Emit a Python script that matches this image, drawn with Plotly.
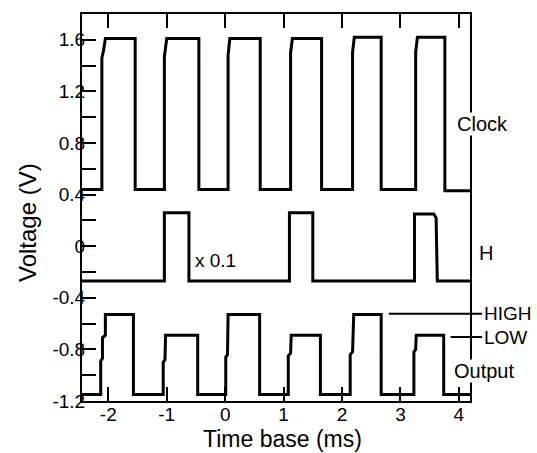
import plotly.graph_objects as go

# ---- data ----
clock_t = [-2.45, -2.11, -2.11, -2.08, -2.05, -1.54, -1.54,
           -1.04, -1.04, -1.00, -0.45, -0.45,
           0.05, 0.05, 0.08, 0.60, 0.60,
           1.12, 1.12, 1.15, 1.65, 1.65,
           2.18, 2.18, 2.21, 2.67, 2.67,
           3.26, 3.26, 3.29, 3.76, 3.76, 4.19]
clock_v = [0.44, 0.44, 1.46, 1.52, 1.61, 1.61, 0.44,
           0.44, 1.47, 1.61, 1.61, 0.44,
           0.44, 1.48, 1.61, 1.61, 0.44,
           0.44, 1.50, 1.61, 1.61, 0.44,
           0.44, 1.50, 1.62, 1.62, 0.44,
           0.44, 1.50, 1.62, 1.62, 0.43, 0.43]

h_t = [-2.45, -1.04, -1.04, -0.62, -0.62, 1.10, 1.10, 1.50, 1.50,
       3.24, 3.24, 3.57, 3.61, 3.63, 4.19]
h_v = [-0.27, -0.27, 0.26, 0.26, -0.27, -0.27, 0.26, 0.26, -0.27,
       -0.27, 0.25, 0.25, 0.22, -0.27, -0.27]

out_t = [-2.45, -2.13, -2.13, -2.10, -2.10, -2.05, -2.05, -1.57, -1.57,
         -1.06, -1.06, -1.03, -1.02, -0.47, -0.47,
         0.01, 0.01, 0.04, 0.05, 0.59, 0.59,
         1.08, 1.08, 1.12, 1.13, 1.63, 1.63,
         2.14, 2.14, 2.18, 2.20, 2.67, 2.67,
         3.23, 3.23, 3.26, 3.27, 3.74, 3.74, 4.19]
out_v = [-1.15, -1.15, -0.89, -0.87, -0.71, -0.69, -0.53, -0.53, -1.15,
         -1.15, -0.90, -0.88, -0.69, -0.69, -1.15,
         -1.15, -0.86, -0.84, -0.53, -0.53, -1.15,
         -1.15, -0.85, -0.83, -0.69, -0.69, -1.15,
         -1.15, -0.84, -0.82, -0.53, -0.53, -1.15,
         -1.15, -0.82, -0.80, -0.69, -0.69, -1.15, -1.15]

x_tickvals = [-2, -1, 0, 1, 2, 3, 4]
x_ticktext = ["-2", "-1", "0", "1", "2", "3", "4"]
y_tickvals = [-1.2, -1.0, -0.8, -0.6, -0.4, -0.2, 0, 0.2, 0.4, 0.6, 0.8,
              1.0, 1.2, 1.4, 1.6]
y_ticktext = ["-1.2", "", "-0.8", "", "-0.4", "", "0", "", "0.4", "",
              "0.8", "", "1.2", "", "1.6"]

FONT = "Liberation Sans, Arial, Helvetica, sans-serif"
line_style = dict(color="black", width=3)

fig = go.Figure()
for t, v in [(clock_t, clock_v), (h_t, h_v), (out_t, out_v)]:
    fig.add_trace(go.Scatter(x=t, y=v, mode="lines", line=line_style,
                             showlegend=False, hoverinfo="skip"))

fig.update_layout(
    width=537, height=453,
    margin=dict(l=82, r=67, t=12, b=52),
    plot_bgcolor="white", paper_bgcolor="white",
    font=dict(family=FONT, size=19, color="black"),
    showlegend=False,
)
fig.update_xaxes(range=[-2.45, 4.19], tickvals=x_tickvals, ticktext=x_ticktext,
                 ticks="inside", ticklen=14, tickwidth=1.5, tickcolor="black",
                 showline=True, linewidth=2, linecolor="black", mirror="ticks",
                 showgrid=False, zeroline=False, ticklabelstandoff=-5,
                 tickfont=dict(size=19, family=FONT))
fig.update_yaxes(range=[-1.2, 1.8], tickvals=y_tickvals, ticktext=y_ticktext,
                 ticks="inside", ticklen=14, tickwidth=1.5, tickcolor="black",
                 showline=True, linewidth=2, linecolor="black", mirror=True,
                 showgrid=False, zeroline=False, ticklabelstandoff=-9,
                 tickfont=dict(size=19, family=FONT))

def ann(text, x, y, xanchor="center", size=19, angle=0, bg=None):
    fig.add_annotation(text=text, x=x, y=y, xref="paper", yref="paper",
                       xanchor=xanchor, yanchor="middle", showarrow=False,
                       textangle=angle, font=dict(size=size, family=FONT, color="black"),
                       bgcolor=bg, borderpad=0)

ann("Voltage (V)", -0.139, 0.46, angle=-90, size=24)
ann("Time base (ms)", 0.518, -0.098, size=23)
ann("Clock", 1.0335, 0.7147, size=20, bg="white")
ann("H", 1.0206, 0.383, xanchor="left", size=20)
ann("HIGH", 1.0335, 0.2254, xanchor="left")
ann("LOW", 1.0335, 0.1653, xanchor="left")
ann("Output", 1.036, 0.0771, size=20, bg="white")
ann("x 0.1", 0.344, 0.3625)

fig.add_shape(type="line", xref="paper", yref="paper", x0=0.791, x1=1.031,
              y0=0.2254, y1=0.2254, line=dict(color="black", width=2))
fig.add_shape(type="line", xref="paper", yref="paper", x0=0.950, x1=1.031,
              y0=0.1653, y1=0.1653, line=dict(color="black", width=2))

fig.write_html("out.html")
